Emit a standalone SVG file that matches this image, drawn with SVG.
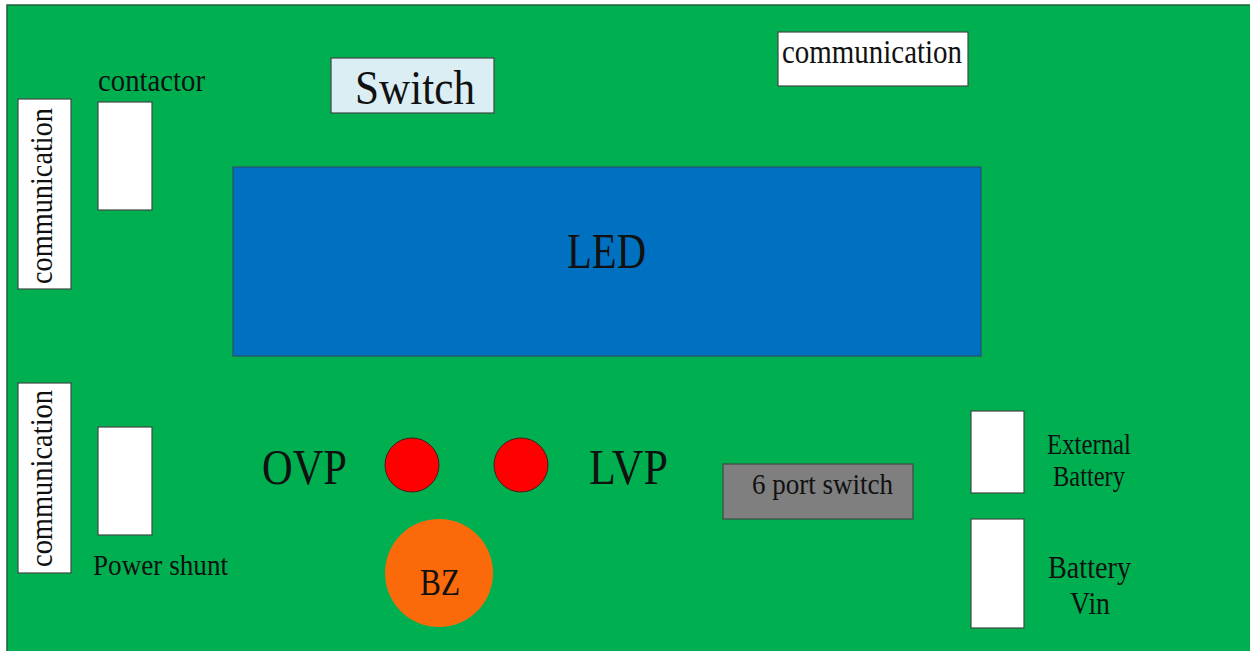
<svg xmlns="http://www.w3.org/2000/svg" width="1250" height="651" viewBox="0 0 1250 651">
  <style>
    text { font-family: "Liberation Serif", "Times New Roman", serif; fill: #111; }
    .board { fill: #00B050; stroke: #1f5f3a; stroke-width: 1.5; }
    .white { fill: #ffffff; stroke: #3c4a44; stroke-width: 1.2; }
    .led { fill: #0070C0; stroke: #2e4f6e; stroke-width: 1.2; }
    .switch { fill: #DAEEF3; stroke: #3c4a44; stroke-width: 1.2; }
    .gray { fill: #7F7F7F; stroke: #3c4a44; stroke-width: 1.2; }
    .lamp { fill: #FF0000; stroke: #4a1a1a; stroke-width: 1; }
    .buzzer { fill: #FA6A0A; }
  </style>

  <rect width="1250" height="651" fill="#ffffff"/>
  <rect id="board" class="board" x="7" y="5" width="1260" height="670"/>

  <g id="comm-left-top">
    <rect class="white" x="18" y="99" width="53" height="190"/>
    <text transform="translate(52,284) rotate(-90)" font-size="32" textLength="176" lengthAdjust="spacingAndGlyphs">communication</text>
  </g>

  <g id="contactor">
    <text x="98" y="91" font-size="31" textLength="107" lengthAdjust="spacingAndGlyphs">contactor</text>
    <rect class="white" x="98" y="102" width="54" height="108"/>
  </g>

  <g id="switch">
    <rect class="switch" x="331" y="58" width="163" height="55"/>
    <text x="355" y="104" font-size="49" textLength="120" lengthAdjust="spacingAndGlyphs">Switch</text>
  </g>

  <g id="comm-top">
    <rect class="white" x="778" y="32" width="190" height="54"/>
    <text x="782" y="63" font-size="33" textLength="180" lengthAdjust="spacingAndGlyphs">communication</text>
  </g>

  <g id="led">
    <rect class="led" x="233" y="167" width="748" height="189"/>
    <text x="567" y="268" font-size="50" textLength="79" lengthAdjust="spacingAndGlyphs">LED</text>
  </g>

  <g id="comm-left-bottom">
    <rect class="white" x="18" y="383" width="53" height="190"/>
    <text transform="translate(52,567) rotate(-90)" font-size="32" textLength="177" lengthAdjust="spacingAndGlyphs">communication</text>
  </g>

  <g id="power-shunt">
    <rect class="white" x="98" y="427" width="54" height="108"/>
    <text x="93" y="575" font-size="30" textLength="135" lengthAdjust="spacingAndGlyphs">Power shunt</text>
  </g>

  <g id="ovp">
    <text x="262" y="484" font-size="50" textLength="85" lengthAdjust="spacingAndGlyphs">OVP</text>
    <circle class="lamp" cx="412" cy="465" r="27"/>
  </g>

  <g id="lvp">
    <circle class="lamp" cx="521" cy="465" r="27"/>
    <text x="589" y="484" font-size="50" textLength="79" lengthAdjust="spacingAndGlyphs">LVP</text>
  </g>

  <g id="buzzer">
    <circle class="buzzer" cx="439" cy="573" r="54"/>
    <text x="420" y="595" font-size="38" textLength="40" lengthAdjust="spacingAndGlyphs">BZ</text>
  </g>

  <g id="port-switch">
    <rect class="gray" x="723" y="464" width="190" height="55"/>
    <text x="752" y="494" font-size="30" textLength="141" lengthAdjust="spacingAndGlyphs">6 port switch</text>
  </g>

  <g id="external-battery">
    <rect class="white" x="971" y="411" width="53" height="82"/>
    <text x="1047" y="454" font-size="29" textLength="84" lengthAdjust="spacingAndGlyphs">External</text>
    <text x="1053" y="486" font-size="29" textLength="72" lengthAdjust="spacingAndGlyphs">Battery</text>
  </g>

  <g id="battery-vin">
    <rect class="white" x="971" y="519" width="53" height="109"/>
    <text x="1048" y="578" font-size="32" textLength="83" lengthAdjust="spacingAndGlyphs">Battery</text>
    <text x="1070" y="614" font-size="32" textLength="40" lengthAdjust="spacingAndGlyphs">Vin</text>
  </g>

  <g id="connectors"/>
</svg>
